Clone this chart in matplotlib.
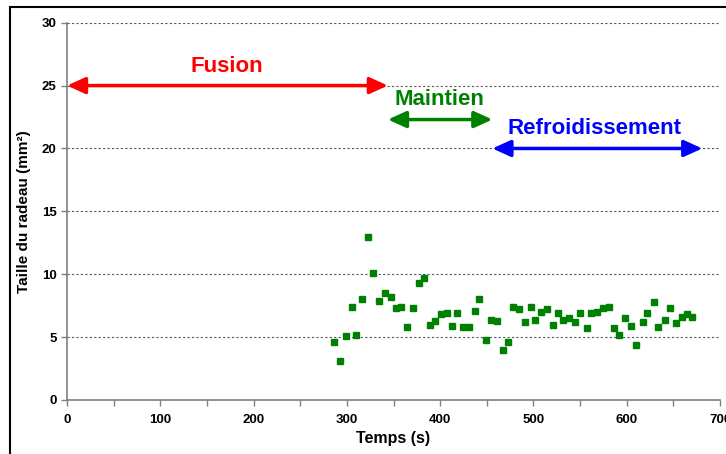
import matplotlib
matplotlib.use("Agg")
import matplotlib.pyplot as plt
from matplotlib.patches import Rectangle

plt.rcParams['font.family'] = ['Liberation Sans', 'DejaVu Sans']

# Temps (s) et taille du radeau (mm2)
temps = [286, 293, 299, 305, 310, 316, 323, 328, 334, 341, 347, 353, 358,
         365, 371, 377, 383, 389, 395, 401, 407, 413, 418, 425, 431, 437,
         442, 449, 455, 461, 467, 473, 478, 484, 491, 497, 502, 508, 515,
         521, 526, 532, 538, 545, 550, 557, 562, 568, 575, 581, 586, 592,
         598, 605, 610, 617, 622, 629, 634, 641, 646, 653, 659, 665, 670]
taille = [4.6, 3.1, 5.1, 7.4, 5.2, 8.0, 13.0, 10.1, 7.9, 8.5, 8.2, 7.3, 7.4,
          5.8, 7.3, 9.3, 9.7, 6.0, 6.3, 6.8, 6.9, 5.9, 6.9, 5.8, 5.8, 7.1,
          8.0, 4.8, 6.4, 6.3, 4.0, 4.6, 7.4, 7.2, 6.2, 7.4, 6.4, 7.0, 7.2,
          6.0, 6.9, 6.4, 6.5, 6.2, 6.9, 5.7, 6.9, 7.0, 7.3, 7.4, 5.7, 5.2,
          6.5, 5.9, 4.4, 6.2, 6.9, 7.8, 5.8, 6.4, 7.3, 6.1, 6.6, 6.8, 6.6]

# Phases : (nom, debut, fin, niveau de la fleche, position du texte, couleur)
phases = ["Fusion", "Maintien", "Refroidissement"]
phase_debut = [0, 344, 456]
phase_fin = [344, 456, 681]
phase_y = [25, 22.3, 20]
texte_x = [171, 399, 566]
texte_y = [26.5, 23.9, 21.6]
phase_couleurs = ["#FF0000", "#008000", "#0000FF"]


def main():
    fig = plt.figure(figsize=(7.26, 4.54), dpi=100)
    ax = fig.add_axes([67 / 726, 1 - 400 / 454, 653 / 726, 377.3 / 454])

    # cadre du graphique (coupé à droite et en bas)
    fig.patches.append(Rectangle((10 / 726, -0.1), 1.0, 1 - 7 / 454 + 0.1,
                                 transform=fig.transFigure, fill=False,
                                 edgecolor='black', lw=1.5, clip_on=False))

    ax.plot(temps, taille, linestyle='none', marker='s', ms=4.2,
            color='#008000', mec='#008000', zorder=3)

    for nom, d, f, y, tx, ty, c in zip(phases, phase_debut, phase_fin, phase_y,
                                       texte_x, texte_y, phase_couleurs):
        ax.annotate('', xy=(f, y), xytext=(d, y),
                    arrowprops=dict(arrowstyle='<|-|>,head_length=0.55,head_width=0.25',
                                    color=c, lw=2.5, shrinkA=0, shrinkB=0,
                                    mutation_scale=20), zorder=4)
        ax.text(tx, ty, nom, color=c, fontsize=16, fontweight='bold',
                ha='center', va='center', zorder=4)

    ax.set_xlim(0, 700)
    ax.set_ylim(0, 30)
    ax.set_xticks(range(0, 701, 100))
    ax.set_xticks(range(50, 701, 100), minor=True)
    ax.set_yticks(range(0, 31, 5))
    ax.tick_params(axis='both', which='both', direction='out', length=4,
                   width=1, color='#808080', labelsize=9.5)
    for lab in ax.get_xticklabels() + ax.get_yticklabels():
        lab.set_fontweight('bold')
    ax.tick_params(axis='x', pad=6)

    for y in range(5, 31, 5):
        ax.axhline(y, color='#555555', lw=0.8, linestyle=(0, (2, 2)), zorder=1)

    for s in ['top', 'right']:
        ax.spines[s].set_visible(False)
    for s in ['left', 'bottom']:
        ax.spines[s].set_color('#808080')
        ax.spines[s].set_linewidth(1.2)

    ax.set_xlabel('Temps (s)', fontsize=11.5, fontweight='bold', labelpad=4)
    ax.set_ylabel('Taille du radeau (mm²)', fontsize=11, fontweight='bold', labelpad=8)

    fig.savefig('out.png', dpi=100)


if __name__ == "__main__":
    main()
